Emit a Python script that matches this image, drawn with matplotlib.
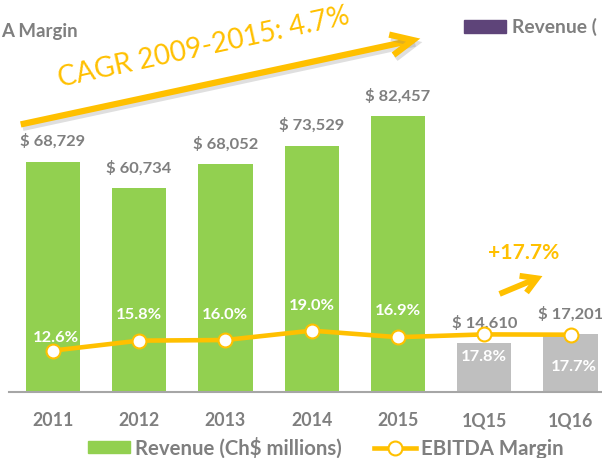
import matplotlib
matplotlib.use("Agg")
import matplotlib.pyplot as plt
from matplotlib.patches import Rectangle, FancyArrowPatch
from matplotlib.lines import Line2D
import matplotlib.patheffects as pe

plt.rcParams['font.family'] = ['Lato', 'DejaVu Sans']

# ---- data ----
categories = ["2011", "2012", "2013", "2014", "2015", "1Q15", "1Q16"]
revenue = [68729, 60734, 68052, 73529, 82457, 14610, 17201]
ebitda_margin = [12.6, 15.8, 16.0, 19.0, 16.9, 17.8, 17.7]
revenue_labels = ["$ 68,729", "$ 60,734", "$ 68,052", "$ 73,529", "$ 82,457", "$ 14,610", "$ 17,201"]
margin_labels = ["12.6%", "15.8%", "16.0%", "19.0%", "16.9%", "17.8%", "17.7%"]
legend_labels = ["Revenue (Ch$ millions)", "EBITDA Margin"]
top_left_text = "A Margin"
top_right_text = "Revenue ("
cagr_text = "CAGR 2009-2015: 4.7%"
growth_text = "+17.7%"

# ---- style ----
GREEN = "#92D050"
GREY_BAR = "#BFBFBF"
ORANGE = "#FFC000"
TXT = "#7F7F7F"
PURPLE = "#5E4479"
bar_colors = [GREEN] * 5 + [GREY_BAR] * 2
m_dx = [3, 0, 0, 0, 0, 0, 3]
m_dy = [13, 26, 25, 25, 26, -23, -32]

W, H = 602, 458
fig = plt.figure(figsize=(W / 100, H / 100), dpi=100)
renderer = fig.canvas.get_renderer()

def fx(x):
    return x / W

def fy(y):
    return 1 - y / H

def text_width(text, size, weight="bold"):
    t = fig.text(0, 0, text, fontsize=size, fontweight=weight)
    w = t.get_window_extent(renderer).width
    t.remove()
    return w

def fit_size(text, target_px, weight="bold", base=12):
    return base * target_px / text_width(text, base, weight)

ax_left, ax_right = 9, 602
base_y = 391.7
px_per_cat = 86.3
x0_px = 52.8
ax_h_px = 312.5
ax = fig.add_axes([fx(ax_left), fy(base_y), (ax_right - ax_left) / W, ax_h_px / H])
ax.set_xlim((ax_left - x0_px) / px_per_cat, (ax_right - x0_px) / px_per_cat)
ax.set_ylim(0, ax_h_px / 3.347 * 1000)

xs = list(range(len(categories)))
ax.bar(xs, revenue, width=0.63, color=bar_colors, zorder=2)

for spine in ["top", "right", "left"]:
    ax.spines[spine].set_visible(False)
ax.spines["bottom"].set_color("#A6A6A6")
ax.spines["bottom"].set_linewidth(1.5)
ax.set_yticks([])
ax.set_xticks(xs)
tick_fs = fit_size("2011", 41)
ax.set_xticklabels(categories, fontsize=tick_fs, fontweight="bold", color=TXT)
for lbl in ax.get_xticklabels():
    lbl.set_va("center")
ax.tick_params(axis="x", length=0, pad=29 * 0.72)

rev_fs = fit_size("$ 68,729", 65)
for xi, v, lab in zip(xs, revenue, revenue_labels):
    ax.annotate(lab, (xi, v), xytext=(0, 20), textcoords="offset pixels",
                ha="center", va="center", fontsize=rev_fs, fontweight="bold", color=TXT)

ax2 = ax.twinx()
ax2.set_ylim(-0.54, -0.54 + ax_h_px / 3.125)
ax2.set_axis_off()
ax2.plot(xs, ebitda_margin, color=ORANGE, lw=3.3, marker="o", ms=10,
         mfc="white", mec=ORANGE, mew=1.5, zorder=3, solid_capstyle="butt")
pct_fs = fit_size("12.6%", 46)
for xi, v, lab, dx, dy in zip(xs, ebitda_margin, margin_labels, m_dx, m_dy):
    ax2.annotate(lab, (xi, v), xytext=(dx, dy), textcoords="offset pixels",
                 ha="center", va="center", fontsize=pct_fs, fontweight="bold", color="white")

# bottom legend
leg_fs = fit_size(legend_labels[0], 206)
fs_px = leg_fs * 100 / 72
handles = [Rectangle((0, 0), 1, 1, color=GREEN),
           Line2D([], [], color=ORANGE, lw=3.3, marker="o", ms=10, mfc="white", mec=ORANGE, mew=1.5)]
leg = fig.legend(handles, legend_labels, ncol=2,
                 loc="center left", bbox_to_anchor=(fx(88.3), fy(448)), frameon=False,
                 prop={"size": leg_fs, "weight": "bold"}, labelcolor=TXT,
                 handlelength=42 / fs_px, handletextpad=5 / fs_px, columnspacing=32 / fs_px,
                 borderpad=0, borderaxespad=0, handleheight=10.6 / fs_px)

# top (cut-off) legend pieces
top_fs = fit_size("Margin", 58.7)
tl_w = text_width(top_left_text, top_fs)
fig.text(fx(max(1.5, 66.7 - tl_w)), fy(32), top_left_text, ha="left", va="center",
         fontsize=top_fs, fontweight="bold", color=TXT)
fig.patches.append(Rectangle((fx(464), fy(32.7)), fx(505.7) - fx(464), fy(20) - fy(32.7),
                             transform=fig.transFigure, color=PURPLE))
fig.text(fx(511.7), fy(27), top_right_text, ha="left", va="center",
         fontsize=fit_size("Revenue", 75), fontweight="bold", color=TXT)

# CAGR arrow
arr = FancyArrowPatch((fx(18), fy(125)), (fx(423), fy(38)), transform=fig.transFigure,
                      arrowstyle="->,head_length=1.6,head_width=0.75", mutation_scale=10,
                      color=ORANGE, lw=4.5, capstyle="butt", joinstyle="miter")
arr.set_path_effects([pe.SimpleLineShadow(offset=(1.5, -2.5), shadow_color="gray", alpha=0.25),
                      pe.Normal()])
fig.patches.append(arr)
cagr_fs = fit_size(cagr_text, 298, weight="normal", base=20)
fig.text(fx(60), fy(87), cagr_text, ha="left", va="baseline", rotation=12.3,
         rotation_mode="anchor", fontsize=cagr_fs, color=ORANGE)

# small growth arrow
arr2 = FancyArrowPatch((fx(497), fy(295)), (fx(545), fy(275)), transform=fig.transFigure,
                       arrowstyle="->,head_length=1.1,head_width=0.65", mutation_scale=10,
                       color=ORANGE, lw=4.2, capstyle="butt", joinstyle="miter")
fig.patches.append(arr2)
fig.text(fx(523.5), fy(253), growth_text, ha="center", va="center",
         fontsize=fit_size(growth_text, 71), fontweight="bold", color=ORANGE)

fig.savefig("out.png", dpi=100)
